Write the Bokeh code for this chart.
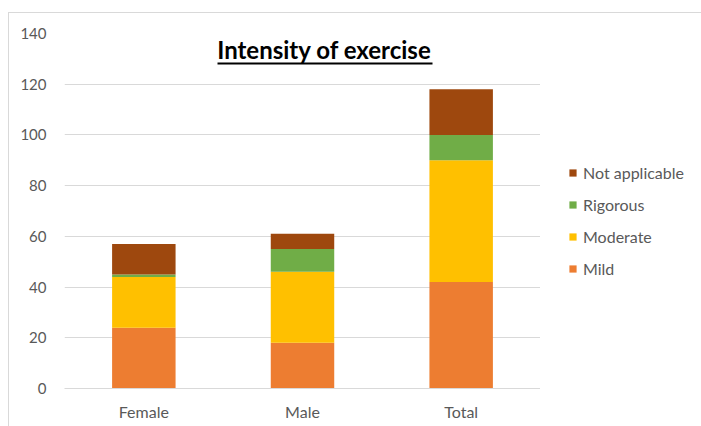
from bokeh.plotting import figure
from bokeh.layouts import row
from bokeh.models import (Legend, LegendItem, Label, BoxAnnotation, FactorRange,
                          Range1d, SingleIntervalTicker, ColumnDataSource)
from bokeh.embed import file_html
from bokeh.resources import INLINE

# Survey counts by group, stacked by exercise intensity
groups = ["Female", "Male", "Total"]
mild = [24, 18, 42]
moderate = [20, 28, 48]
rigorous = [1, 9, 10]
not_applicable = [12, 6, 18]

levels = ["Mild", "Moderate", "Rigorous", "Not applicable"]
fields = ["mild", "moderate", "rigorous", "not_applicable"]
colors = ["#ED7D31", "#FFC000", "#70AD47", "#9E480E"]

source = ColumnDataSource(dict(group=groups, mild=mild, moderate=moderate,
                               rigorous=rigorous, not_applicable=not_applicable))

FONT = "Lato"
TEXT = "#595959"
GRID = "#d9d9d9"

# main chart
p = figure(x_range=FactorRange(*groups), y_range=Range1d(0, 140),
           width=531, height=413, output_backend="svg", toolbar_location=None,
           min_border_left=55, min_border_right=0, min_border_top=20,
           min_border_bottom=38)
p.outline_line_color = None
p.background_fill_color = "white"
p.border_fill_color = "white"

bars = p.vbar_stack(fields, x="group", width=0.4, source=source,
                    fill_color=colors, line_color=None)

p.yaxis.ticker = SingleIntervalTicker(interval=20)
p.yaxis.axis_line_color = None
p.yaxis.major_tick_line_color = None
p.yaxis.minor_tick_line_color = None
p.yaxis.major_label_standoff = 12
p.yaxis.major_label_text_font_size = "15px"
p.xaxis.axis_line_color = GRID
p.xaxis.major_tick_line_color = None
p.xaxis.minor_tick_line_color = None
p.xaxis.major_label_standoff = 7
p.xaxis.major_label_text_font_size = "16px"
for ax in (p.xaxis, p.yaxis):
    ax.major_label_text_font = FONT
    ax.major_label_text_color = TEXT

p.xgrid.grid_line_color = None
p.ygrid.grid_line_color = GRID
p.ygrid.grid_line_width = 1

# title with underline
title = Label(x=260, y=339, x_units="screen", y_units="screen",
              text="Intensity of exercise", text_align="center",
              text_baseline="alphabetic", text_font=FONT,
              text_font_size="24px", text_font_style="bold",
              text_color="black")
p.add_layout(title)
underline = BoxAnnotation(left=153, right=368, bottom=324, top=326,
                          left_units="screen", right_units="screen",
                          top_units="screen", bottom_units="screen",
                          fill_color="black", fill_alpha=1, line_color=None)
p.add_layout(underline)

# legend strip on the right, top entry is the top of the stack
lg = figure(width=161, height=413, output_backend="svg", toolbar_location=None,
            x_range=Range1d(0, 1), y_range=Range1d(0, 1),
            x_axis_type=None, y_axis_type=None,
            min_border_left=0, min_border_right=0, min_border_top=0,
            min_border_bottom=0)
lg.outline_line_color = None
lg.xgrid.visible = False
lg.ygrid.visible = False
# zero-height proxies that only supply the legend swatches
keys = [lg.vbar(x=[0], top=[0], bottom=[0], width=0, fill_color=c,
                line_color=None) for c in colors]
items = [LegendItem(label=lab, renderers=[r]) for lab, r in zip(levels, keys)][::-1]
legend = Legend(items=items, location=(28, 110), orientation="vertical",
                label_text_font=FONT, label_text_font_size="16px",
                label_text_color=TEXT, glyph_width=9, glyph_height=9,
                label_height=20, spacing=12, padding=0, margin=0,
                label_standoff=6, border_line_color=None,
                background_fill_alpha=0)
lg.add_layout(legend)

layout = row(p, lg, margin=(12, 0, 0, 8),
             styles={"border-top": "1px solid #d9d9d9",
                     "border-left": "1px solid #d9d9d9"})

open("out.html", "w").write(file_html(layout, INLINE))
